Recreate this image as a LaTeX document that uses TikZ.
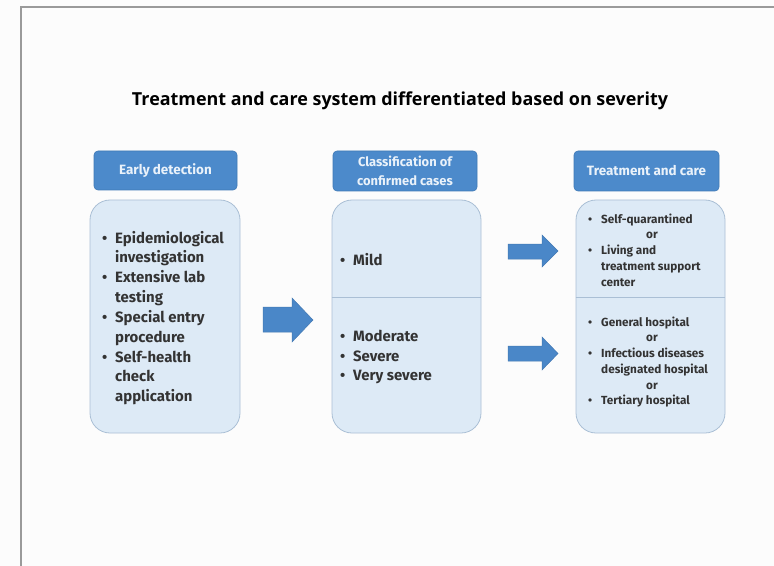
\documentclass[tikz,border=0pt]{standalone}
\usepackage{fontspec}
\setmainfont{Fira Sans}
\newfontfamily\titlefont{Open Sans}
\definecolor{bgc}{HTML}{FCFCFC}
\definecolor{framec}{HTML}{9A9A9A}
\definecolor{headfill}{HTML}{4C8ACB}
\definecolor{headdraw}{HTML}{3F79B6}
\definecolor{headtext}{HTML}{EAF2FA}
\definecolor{bodyfill}{HTML}{DDEAF6}
\definecolor{bodydraw}{HTML}{AABFD5}
\definecolor{arrowfill}{HTML}{4A87C8}
\definecolor{arrowdraw}{HTML}{4479B3}
\definecolor{txt}{HTML}{333333}
\newcommand\bl{\makebox[13bp][l]{•}}
\newcommand\ind{\hspace*{13bp}}
\newcommand\sbl{\makebox[13bp][l]{•}}
\newcommand\sind{\hspace*{13bp}}
\begin{document}
\begin{tikzpicture}[x=1bp,y=-1bp,
  headbox/.style={draw=headdraw, fill=headfill, rounded corners=4bp, line width=0.6bp,
    text=headtext, font=\bfseries\fontsize{13.5}{18.5}\selectfont, align=center, inner sep=0pt},
  bodybox/.style={draw=bodydraw, fill=bodyfill, rounded corners=20bp, line width=0.8bp, inner sep=0pt},
  bigtext/.style={text=txt, font=\bfseries\fontsize{15}{19.9}\selectfont, align=left, inner sep=0pt, anchor=west},
  smalltext/.style={text=txt, font=\bfseries\fontsize{11.8}{15.8}\selectfont, align=left, inner sep=0pt, anchor=west},
  blockarrow/.style={fill=arrowfill, draw=arrowdraw, line width=0.5bp}
]
\useasboundingbox (0,0) rectangle (774,566);
\fill[bgc] (0,0) rectangle (774,566);
\draw[framec, line width=1.2bp] (21,566) -- (21,7) -- (774,7);

\node[text=black, font=\titlefont\bfseries\fontsize{18}{20}\selectfont] (title) at (400,101)
  {Treatment and care system differentiated based on severity};

% headers
\node[headbox, minimum width=143bp, minimum height=39bp] (h1) at (165.5,170.5) {Early detection};
\node[headbox, minimum width=144bp, minimum height=40bp, font=\bfseries\fontsize{13}{18.5}\selectfont] (h2) at (405,171) {Classification of\\confirmed cases};
\node[headbox, minimum width=145bp, minimum height=40bp] (h3) at (646.5,171) {Treatment and care};

% bodies
\node[bodybox, minimum width=150bp, minimum height=233bp] (b1) at (165,316.5) {};
\node[bodybox, minimum width=149bp, minimum height=233bp] (b2) at (406.5,316.5) {};
\node[bodybox, minimum width=149bp, minimum height=233bp] (b3) at (650.5,316.5) {};

\coordinate (div) at (0,297);
\draw[bodydraw, line width=0.8bp] (b2.west |- div) -- (b2.east |- div);
\draw[bodydraw, line width=0.8bp] (b3.west |- div) -- (b3.east |- div);

% texts
\node[bigtext] (t1) at (102,318) {\bl Epidemiological\\\ind investigation\\\bl Extensive lab\\\ind testing\\\bl Special entry\\\ind procedure\\\bl Self-health\\\ind check\\\ind application};
\node[bigtext] (t2a) at (340,260) {\bl Mild};
\node[bigtext] (t2b) at (340,357) {\bl Moderate\\\bl Severe\\\bl Very severe};
\node[smalltext] (t3a) at (588,250) {\sbl Self-quarantined\\\sind\hspace*{45bp}or\\\sbl Living and\\\sind treatment support\\\sind center};
\node[smalltext] (t3b) at (588,362) {\sbl General hospital\\\sind\hspace*{45bp}or\\\sbl Infectious diseases\\\sind designated hospital\\\sind\hspace*{45bp}or\\\sbl Tertiary hospital};

% block arrows
\fill[blockarrow] (263,307) -- (292,307) -- (292,298) -- (313,320) -- (292,342) -- (292,332) -- (263,332) -- cycle;
\fill[blockarrow] (508,244) -- (542,244) -- (542,235) -- (558,251) -- (542,267) -- (542,259) -- (508,259) -- cycle;
\fill[blockarrow] (508,346) -- (542,346) -- (542,337) -- (558,353.5) -- (542,370) -- (542,361) -- (508,361) -- cycle;
\end{tikzpicture}
\end{document}
